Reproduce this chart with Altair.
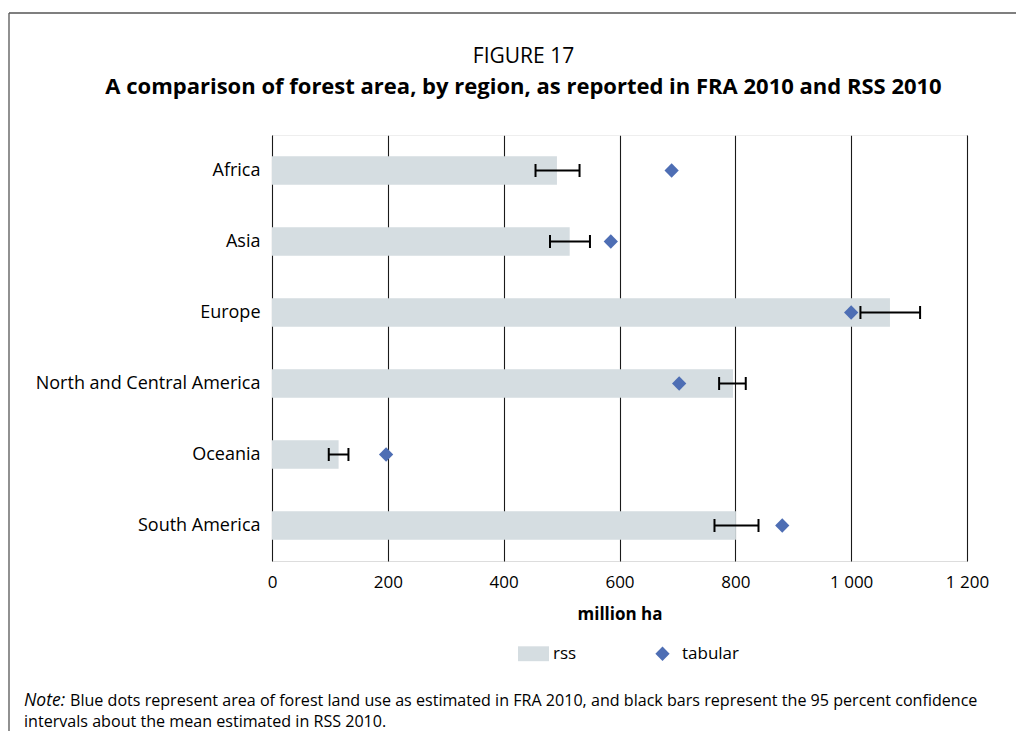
import altair as alt
import pandas as pd

# ---- data ----
regions = ["Africa", "Asia", "Europe", "North and Central America", "Oceania", "South America"]
rss_values = [492, 514, 1067, 796, 115, 801]
ci_low = [455, 480, 1016, 772, 98, 764]
ci_high = [531, 549, 1119, 818, 132, 840]
tabular_values = [690, 585, 1000, 703, 197, 881]
x_ticks = [0, 200, 400, 600, 800, 1000, 1200]
series_names = ["rss", "tabular"]

title_text = "FIGURE 17"
subtitle_text = "A comparison of forest area, by region, as reported in FRA 2010 and RSS 2010"
axis_title = "million ha"
note_lead = "Note:"
note_line1 = ("Blue dots represent area of forest land use as estimated in FRA 2010, "
              "and black bars represent the 95 percent confidence")
note_line2 = "intervals about the mean estimated in RSS 2010."

FONT = "Open Sans"
BAR_COLOR = "#d5dde1"
DOT_COLOR = "#4e6eb4"

bars_df = pd.DataFrame({"region": regions, "value": rss_values,
                        "lo": ci_low, "hi": ci_high, "series": "rss"})
dots_df = pd.DataFrame({"region": regions, "value": tabular_values, "series": "tabular"})

rect_path = "M-1,-0.48L1,-0.48L1,0.48L-1,0.48Z"
diamond_path = "M0,-0.46L0.46,0L0,0.46L-0.46,0Z"

x_axis = alt.Axis(values=x_ticks, grid=True, gridColor="#1a1a1a", gridWidth=1.1,
                  domain=False, ticks=False, tickSize=0, labelPadding=13,
                  labelFlush=False,
                  labelFontSize=17, labelFont=FONT, labelColor="#000",
                  labelExpr="replace(format(datum.value, ','), ',', ' ')",
                  title=axis_title, titleFont=FONT, titleFontSize=17,
                  titleFontWeight="bold", titleColor="#000",
                  titleY=53, titleBaseline="middle")
x_scale = alt.Scale(domain=[0, 1200], nice=False, zero=True)


def X(field):
    return alt.X(f"{field}:Q", scale=x_scale, axis=x_axis, title=axis_title)


Y = alt.Y("region:N", sort=regions,
          scale=alt.Scale(paddingInner=0.6, paddingOuter=0.3),
          axis=alt.Axis(title=None, domain=False, ticks=False, tickSize=0,
                        labelPadding=12, labelFontSize=18, labelFont=FONT,
                        labelColor="#000", grid=False, labelLimit=400))

legend = alt.Legend(title=None, orient="none", legendX=246, legendY=503,
                    direction="horizontal", symbolSize=961,
                    symbolStrokeWidth=0, symbolOpacity=1,
                    labelFontSize=17, labelFont=FONT, labelColor="#000",
                    columnPadding=70, labelOffset=4, padding=0)
color = alt.Color("series:N",
                  scale=alt.Scale(domain=series_names, range=[BAR_COLOR, DOT_COLOR]),
                  legend=legend)
shape = alt.Shape("series:N",
                  scale=alt.Scale(domain=series_names, range=[rect_path, diamond_path]),
                  legend=legend)

bars = alt.Chart(bars_df).mark_bar(color=BAR_COLOR).encode(x=X("value"), y=Y, color=color)
err_line = alt.Chart(bars_df).mark_rule(color="#000", strokeWidth=2).encode(
    x=X("lo"), x2="hi:Q", y=Y)
cap_lo = alt.Chart(bars_df).mark_tick(color="#000", thickness=2, size=13, opacity=1).encode(
    x=X("lo"), y=Y)
cap_hi = alt.Chart(bars_df).mark_tick(color="#000", thickness=2, size=13, opacity=1).encode(
    x=X("hi"), y=Y)
dots = alt.Chart(dots_df).mark_point(filled=True, opacity=1, size=961, strokeWidth=0).encode(
    x=X("value"), y=Y, color=color, shape=shape)

one = alt.Data(values=[{"a": 1}])
frame_top = alt.Chart(one).mark_rule(color="#555", strokeWidth=1.3).encode(
    x=alt.value(-263), x2=alt.value(800), y=alt.value(-122), y2=alt.value(-122))
frame_left = alt.Chart(one).mark_rule(color="#555", strokeWidth=1.3).encode(
    x=alt.value(-263), x2=alt.value(-263), y=alt.value(-122), y2=alt.value(700))
# white cover along the top edge of the plot frame
top_cover = alt.Chart(one).mark_rule(color="white", strokeWidth=2).encode(
    x=alt.value(1.5), x2=alt.value(694), y=alt.value(-0.5), y2=alt.value(-0.5))

title_mark = alt.Chart(one).mark_text(text=title_text, align="center", baseline="middle",
                                      fontSize=21, font=FONT, color="#000").encode(
    x=alt.value(251.5), y=alt.value(-78))
subtitle_mark = alt.Chart(one).mark_text(text=subtitle_text, align="center", baseline="middle",
                                         fontSize=22, fontWeight="bold", font=FONT,
                                         color="#000").encode(
    x=alt.value(251.5), y=alt.value(-48))

note_a = alt.Chart(one).mark_text(text=note_lead, align="left", baseline="middle",
                                  fontSize=17.5, fontStyle="italic", font=FONT,
                                  color="#000").encode(x=alt.value(-248), y=alt.value(566))
note_b = alt.Chart(one).mark_text(text=note_line1, align="left", baseline="middle",
                                  fontSize=16.1, font=FONT,
                                  color="#000").encode(x=alt.value(-202), y=alt.value(566))
note_c = alt.Chart(one).mark_text(text=note_line2, align="left", baseline="middle",
                                  fontSize=16.1, font=FONT,
                                  color="#000").encode(x=alt.value(-248), y=alt.value(587))

chart = alt.layer(bars, err_line, cap_lo, cap_hi, dots, frame_top, frame_left, top_cover,
                  title_mark, subtitle_mark, note_a, note_b, note_c).properties(
    width=695, height=426,
    autosize=alt.AutoSizeParams(type="none"),
    padding={"left": 264, "top": 127, "right": 49, "bottom": 170},
).configure_view(stroke="transparent", strokeWidth=0, fill="white").configure_axisY(
    grid=False, domain=False).configure_axis(domain=False).configure(background="white")

chart.save("out.html", embed_options={"renderer": "svg", "actions": False})
